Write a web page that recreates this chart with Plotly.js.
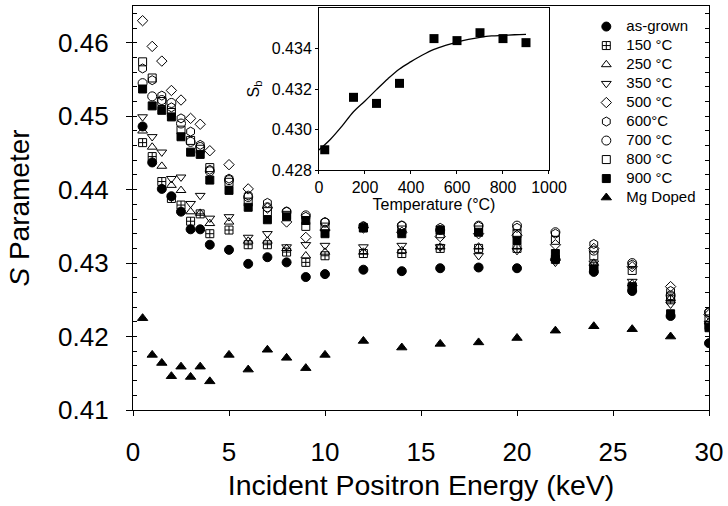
<!DOCTYPE html>
<html>
<head>
<meta charset="utf-8">
<script src="https://cdn.plot.ly/plotly-3.0.1.min.js"></script>
<style>html,body{margin:0;padding:0;background:#fff;}#chart{width:728px;height:506px;}</style>
</head>
<body>
<div id="chart"></div>
<script>
// Incident positron energy (keV)
const energy = [0.5,1,1.5,2,2.5,3,3.5,4,5,6,7,8,9,10,12,14,16,18,20,22,24,26,28,30];
const energyMg = [0.5,1,1.5,2,2.5,3,3.5,4,5,6,7,8,9,10,12,14,16,18,20,22,24,26,28];

const sAsGrown = [0.4486,0.4437,0.4401,0.4391,0.4370,0.4346,0.4346,0.4325,0.4318,0.4299,0.4308,0.4301,0.4281,0.4285,0.4291,0.4289,0.4293,0.4294,0.4293,0.4305,0.4288,0.4262,0.4228,0.4191];
const s150 = [0.4464,0.4445,0.4411,0.4388,0.4379,0.4357,0.4367,0.4340,0.4345,0.4325,0.4325,0.4315,0.4301,0.4310,0.4313,0.4313,0.4320,0.4320,0.4320,0.4305,0.4295,0.4268,0.4250,0.4215];
const s250 = [0.4480,0.4458,0.4432,0.4406,0.4399,0.4370,0.4368,0.4354,0.4356,0.4330,0.4330,0.4320,0.4310,0.4315,0.4315,0.4317,0.4322,0.4322,0.4322,0.4308,0.4300,0.4272,0.4252,0.4220];
const s350 = [0.4499,0.4472,0.4451,0.4415,0.4417,0.4381,0.4392,0.4361,0.4363,0.4335,0.4340,0.4322,0.4325,0.4324,0.4322,0.4324,0.4322,0.4310,0.4317,0.4301,0.4300,0.4275,0.4244,0.4218];
const s500 = [0.4630,0.4595,0.4575,0.4535,0.4522,0.4497,0.4489,0.4453,0.4434,0.4401,0.4375,0.4356,0.4335,0.4345,0.4348,0.4342,0.4336,0.4340,0.4338,0.4325,0.4320,0.4295,0.4268,0.4230];
const s600 = [0.4565,0.4549,0.4528,0.4512,0.4497,0.4479,0.4461,0.4427,0.4415,0.4392,0.4382,0.4370,0.4363,0.4356,0.4350,0.4351,0.4348,0.4350,0.4348,0.4340,0.4326,0.4298,0.4262,0.4233];
const s700 = [0.4545,0.4527,0.4522,0.4518,0.4490,0.4465,0.4458,0.4425,0.4413,0.4390,0.4376,0.4370,0.4365,0.4355,0.4350,0.4351,0.4345,0.4351,0.4351,0.4342,0.4317,0.4300,0.4256,0.4233];
const s800 = [0.4574,0.4552,0.4520,0.4505,0.4481,0.4467,0.4455,0.4430,0.4410,0.4383,0.4370,0.4365,0.4350,0.4349,0.4348,0.4345,0.4340,0.4345,0.4340,0.4331,0.4310,0.4290,0.4254,0.4224];
const s900 = [0.4537,0.4514,0.4508,0.4499,0.4472,0.4451,0.4448,0.4413,0.4399,0.4376,0.4359,0.4363,0.4358,0.4340,0.4348,0.4340,0.4345,0.4342,0.4331,0.4313,0.4292,0.4267,0.4231,0.4212];
const sMg = [0.4225,0.4175,0.4164,0.4146,0.4159,0.4145,0.4159,0.4139,0.4175,0.4155,0.4182,0.4171,0.4157,0.4175,0.4194,0.4185,0.4190,0.4192,0.4198,0.4208,0.4214,0.4210,0.4200];

// Inset: bulk S parameter vs annealing temperature
const insetTemp = [25,150,250,350,500,600,700,800,900];
const insetSb = [0.4290,0.43159,0.43129,0.43228,0.43449,0.43439,0.43478,0.43449,0.43429];
const fitTemp = [0,50,100,150,200,250,300,350,400,450,500,550,600,650,700,750,800,850,900];
const fitSb = [0.42899,0.42952,0.43017,0.43088,0.43141,0.43197,0.43251,0.43299,0.43335,0.43368,0.43396,0.43416,0.43432,0.43445,0.43455,0.43462,0.43465,0.43468,0.43470];

const seriesNames = ['as-grown','150 °C','250 °C','350 °C','500 °C','600°C','700 °C','800 °C','900 °C','Mg Doped'];
const seriesValues = [sAsGrown,s150,s250,s350,s500,s600,s700,s800,s900,sMg];
const seriesSymbols = ['circle','square-cross-open','triangle-up-open','triangle-down-open','diamond-open','hexagon-open','circle-open','square-open','square','triangle-up'];
const seriesSizes = [9,8,8.5,8.5,8,9,9,8,8,9];

const FONT = 'Liberation Sans, Arial, Helvetica, sans-serif';

const traces = seriesNames.map((name, i) => ({
  type: 'scatter', mode: 'markers',
  x: i === 9 ? energyMg : energy,
  y: seriesValues[i],
  name: '<span style="font-size:15px">' + name + '</span>',
  marker: {symbol: seriesSymbols[i], size: seriesSizes[i], color: 'black', line: {color: 'black', width: 1}},
  xaxis: 'x', yaxis: 'y'
}));

traces.push({type:'scatter', mode:'lines', x: fitTemp, y: fitSb, line:{color:'black', width:1.3, shape:'spline'}, xaxis:'x2', yaxis:'y2', showlegend:false, hoverinfo:'skip'});
traces.push({type:'scatter', mode:'markers', x: insetTemp, y: insetSb, marker:{symbol:'square', size:9, color:'black'}, xaxis:'x2', yaxis:'y2', showlegend:false});
traces.push({type:'scatter', mode:'markers', x: [], y: [], xaxis:'x', yaxis:'y3', showlegend:false, hoverinfo:'skip'});

const layout = {
  width: 728, height: 506,
  margin: {l: 133, r: 19, t: 6, b: 96},
  paper_bgcolor: 'white', plot_bgcolor: 'white',
  font: {family: FONT, color: 'black'},
  showlegend: true,
  legend: {x: 0.787, y: 0.985, xanchor: 'left', yanchor: 'top', bgcolor: 'rgba(0,0,0,0)', borderwidth: 0, font: {size: 12, family: FONT}, itemsizing: 'trace'},
  xaxis: {
    domain: [0, 1], range: [0, 30], dtick: 5, tick0: 0,
    ticks: 'outside', ticklen: 5, tickwidth: 1, tickcolor: 'black',
    showline: true, mirror: true, linecolor: 'black', linewidth: 1.2,
    showgrid: false, zeroline: false,
    tickfont: {size: 26, family: FONT}, ticklabelstandoff: 14,
    title: {text: 'Incident Positron Energy (keV)', font: {size: 28.5, family: FONT}, standoff: 8},
    automargin: false
  },
  yaxis: {
    domain: [0, 1], range: [0.41, 0.465], dtick: 0.01, tick0: 0.41, tickformat: '.2f',
    ticks: 'outside', ticklen: 6, tickwidth: 1, tickcolor: 'black',
    minor: {dtick: 0.002, tick0: 0.41, ticks: 'inside', ticklen: 4, tickwidth: 1, tickcolor: 'black'},
    showline: true, mirror: true, linecolor: 'black', linewidth: 1.2,
    showgrid: false, zeroline: false,
    tickfont: {size: 26, family: FONT}, ticklabelstandoff: 12,
    title: {text: '<i>S</i> Parameter', font: {size: 28, family: FONT}, standoff: 20},
    automargin: false
  },
  yaxis3: {
    overlaying: 'y', side: 'right', anchor: 'x',
    range: [0.41, 0.465], dtick: 0.002, tick0: 0.41,
    ticks: 'inside', ticklen: 4, tickwidth: 1, tickcolor: 'black',
    showticklabels: false, showline: false, showgrid: false, zeroline: false
  },
  xaxis2: {
    domain: [0.3229, 0.7222], anchor: 'y2', range: [0, 1000],
    tickvals: [0,200,400,600,800,1000],
    ticks: 'outside', ticklen: 3, tickcolor: 'black',
    showline: true, mirror: true, linecolor: 'black', linewidth: 1,
    showgrid: false, zeroline: false,
    tickfont: {size: 16, family: FONT},
    title: {text: 'Temperature (°C)', font: {size: 16, family: FONT}, standoff: 2},
    automargin: false
  },
  yaxis2: {
    domain: [0.594, 0.995], anchor: 'x2', range: [0.428, 0.436],
    tickvals: [0.428,0.430,0.432,0.434], tickformat: '.3f',
    ticks: 'outside', ticklen: 3, tickcolor: 'black',
    showline: true, mirror: true, linecolor: 'black', linewidth: 1,
    showgrid: false, zeroline: false,
    tickfont: {size: 16, family: FONT},
    title: {text: 'S<sub>b</sub>', font: {size: 16, family: FONT}, standoff: 8},
    automargin: false
  }
};

Plotly.newPlot('chart', traces, layout, {staticPlot: true, displayModeBar: false});
</script>
</body>
</html>
